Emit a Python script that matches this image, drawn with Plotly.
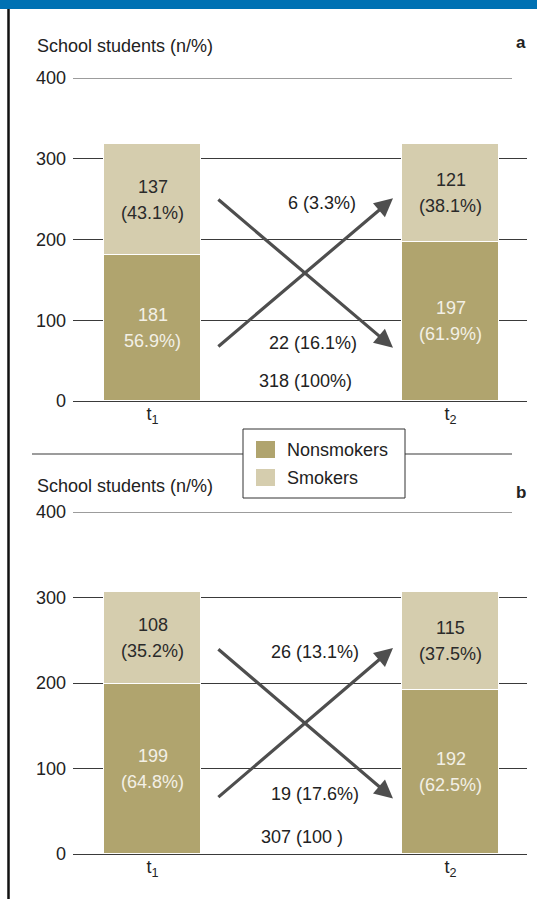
import plotly.graph_objects as go

# ---------------- data ----------------
categories = [0, 1]
tick_labels = ["t<sub>1</sub>", "t<sub>2</sub>"]
series_names = ["Nonsmokers", "Smokers"]

a_nonsmokers = [181, 197]
a_smokers = [137, 121]
a_nonsmokers_n = ["181", "197"]
a_nonsmokers_pct = ["56.9%)", "(61.9%)"]
a_smokers_n = ["137", "121"]
a_smokers_pct = ["(43.1%)", "(38.1%)"]
a_to_smoker = "6 (3.3%)"
a_to_nonsmoker = "22 (16.1%)"
a_total = "318 (100%)"

b_nonsmokers = [199, 192]
b_smokers = [108, 115]
b_nonsmokers_n = ["199", "192"]
b_nonsmokers_pct = ["(64.8%)", "(62.5%)"]
b_smokers_n = ["108", "115"]
b_smokers_pct = ["(35.2%)", "(37.5%)"]
b_to_smoker = "26 (13.1%)"
b_to_nonsmoker = "19 (17.6%)"
b_total = "307 (100 )"

# ---------------- style ----------------
W, H = 537, 899
FONT = "Liberation Sans, Arial, sans-serif"
C_NON = "#b0a46e"
C_SMK = "#d5cdae"
C_GRID = "#3a3a3a"
C_ARROW = "#4e4e4e"
C_TEXT = "#222222"
C_LIGHT = "#f3f0e6"


def py(px):
    return (H - px) / H


def px_x(px):
    return px / W


fig = go.Figure()

panels = [
    dict(xa="x", ya="y", non=a_nonsmokers, smk=a_smokers,
         non_n=a_nonsmokers_n, non_p=a_nonsmokers_pct,
         smk_n=a_smokers_n, smk_p=a_smokers_pct,
         up=a_to_smoker, down=a_to_nonsmoker, total=a_total,
         letter="a", title_px=46, letter_px=43,
         arrow_hi=251, arrow_lo=66, up_lbl=(0.57, 245), down_lbl=(0.54, 72),
         tot_lbl=(0.512, 25)),
    dict(xa="x2", ya="y2", non=b_nonsmokers, smk=b_smokers,
         non_n=b_nonsmokers_n, non_p=b_nonsmokers_pct,
         smk_n=b_smokers_n, smk_p=b_smokers_pct,
         up=b_to_smoker, down=b_to_nonsmoker, total=b_total,
         letter="b", title_px=486, letter_px=493,
         arrow_hi=241, arrow_lo=65, up_lbl=(0.545, 236), down_lbl=(0.546, 70),
         tot_lbl=(0.50, 20)),
]

annotations = []
shapes = []

for p in panels:
    for name, vals, col in [(series_names[0], p["non"], C_NON), (series_names[1], p["smk"], C_SMK)]:
        fig.add_trace(go.Bar(x=categories, y=vals, name=name,
                             marker=dict(color=col, line=dict(color="white", width=1.5)),
                             width=0.325, xaxis=p["xa"], yaxis=p["ya"],
                             showlegend=False, hoverinfo="skip"))
    # segment labels
    for i, cx in enumerate(categories):
        mid_non = p["non"][i] / 2
        mid_smk = p["non"][i] + p["smk"][i] / 2
        for txt, mid, col, sh in [
            (p["non_n"][i], mid_non, C_LIGHT, 13), (p["non_p"][i], mid_non, C_LIGHT, -13),
            (p["smk_n"][i], mid_smk, "#2a2a2a", 13), (p["smk_p"][i], mid_smk, "#2a2a2a", -13),
        ]:
            annotations.append(dict(x=cx, y=mid, xref=p["xa"], yref=p["ya"], text=txt,
                                    showarrow=False, yshift=sh,
                                    font=dict(size=18, color=col, family=FONT)))
    # arrows (transitions)
    for (x0, y0, x1, y1) in [(0.216, p["arrow_hi"], 0.807, p["arrow_lo"]),
                             (0.216, p["arrow_lo"], 0.807, p["arrow_hi"])]:
        annotations.append(dict(x=x1, y=y1, ax=x0, ay=y0, xref=p["xa"], yref=p["ya"],
                                axref=p["xa"], ayref=p["ya"], text="", showarrow=True,
                                arrowhead=2, arrowsize=1.15, arrowwidth=3.2,
                                arrowcolor=C_ARROW, standoff=0))
    for txt, (lx, ly) in [(p["up"], p["up_lbl"]), (p["down"], p["down_lbl"]),
                          (p["total"], p["tot_lbl"])]:
        annotations.append(dict(x=lx, y=ly, xref=p["xa"], yref=p["ya"], text=txt,
                                showarrow=False, font=dict(size=18, color=C_TEXT, family=FONT)))
    # titles
    annotations.append(dict(x=px_x(35), y=py(p["title_px"]), xref="paper", yref="paper",
                            xanchor="left", yanchor="middle", text="School students (n/%)",
                            showarrow=False, font=dict(size=18, color=C_TEXT, family=FONT)))
    annotations.append(dict(x=px_x(528), y=py(p["letter_px"]), xref="paper", yref="paper",
                            xanchor="right", yanchor="middle", text="<b>" + p["letter"] + "</b>",
                            showarrow=False, font=dict(size=17, color=C_TEXT, family=FONT)))
    # 400 line (shorter than other gridlines)
    shapes.append(dict(type="line", xref="paper", yref=p["ya"], x0=px_x(73), x1=px_x(512),
                       y0=400, y1=400, line=dict(color=C_GRID, width=1.2)))

# decorations
shapes.append(dict(type="rect", xref="paper", yref="paper", x0=0, x1=1, y0=py(9), y1=1,
                   fillcolor="#0071b3", line=dict(width=0)))
shapes.append(dict(type="line", xref="paper", yref="paper", x0=px_x(8.5), x1=px_x(8.5),
                   y0=0, y1=py(9), line=dict(color="#111111", width=2.5)))
shapes.append(dict(type="line", xref="paper", yref="paper", x0=px_x(32), x1=px_x(512),
                   y0=py(454), y1=py(454), line=dict(color=C_GRID, width=1.2)))

# manual legend (box, swatches, labels)
shapes.append(dict(type="rect", xref="paper", yref="paper", x0=px_x(243), x1=px_x(405),
                   y0=py(498), y1=py(429), fillcolor="white",
                   line=dict(color="#333333", width=1)))
for k, (name, col) in enumerate(zip(series_names, [C_NON, C_SMK])):
    top = 441 + 28 * k
    shapes.append(dict(type="rect", xref="paper", yref="paper", x0=px_x(256), x1=px_x(275),
                       y0=py(top + 17), y1=py(top), fillcolor=col, line=dict(width=0)))
    annotations.append(dict(x=px_x(285), y=py(top + 8.5), xref="paper", yref="paper",
                            xanchor="left", yanchor="middle", text=name, showarrow=False,
                            font=dict(size=18, color=C_TEXT, family=FONT)))

# axes geometry
x_dom = [73 / W, 527 / W]
x_rng = [(73 - 152.5) / 298, (527 - 152.5) / 298]

axis_common_x = dict(domain=x_dom, range=x_rng, tickvals=categories, ticktext=tick_labels,
                     showgrid=False, zeroline=False, showline=False, ticks="",
                     automargin=False,
                     tickfont=dict(size=18, color=C_TEXT, family=FONT), fixedrange=True)
axis_common_y = dict(range=[0, 400], tickvals=[0, 100, 200, 300, 400], showgrid=True,
                     gridcolor=C_GRID, gridwidth=1.2, zeroline=True, zerolinecolor=C_GRID,
                     zerolinewidth=1.2, showline=False, ticks="", ticklabelstandoff=6,
                     automargin=False,
                     tickfont=dict(size=18, color=C_TEXT, family=FONT), fixedrange=True)

fig.update_layout(
    width=W, height=H, margin=dict(l=0, r=0, t=0, b=0, pad=0, autoexpand=False),
    paper_bgcolor="white", plot_bgcolor="rgba(0,0,0,0)",
    barmode="stack", bargap=0, showlegend=False,
    font=dict(family=FONT, size=18, color=C_TEXT),
    xaxis=dict(anchor="y", **axis_common_x),
    yaxis=dict(anchor="x", domain=[py(401), py(78)], **axis_common_y),
    xaxis2=dict(anchor="y2", **axis_common_x),
    yaxis2=dict(anchor="x2", domain=[py(854), py(512)], **axis_common_y),
    annotations=annotations, shapes=shapes,
)

fig.write_html("out.html",
               post_script="document.body.style.margin='0';"
                           "document.body.style.overflow='hidden';")
